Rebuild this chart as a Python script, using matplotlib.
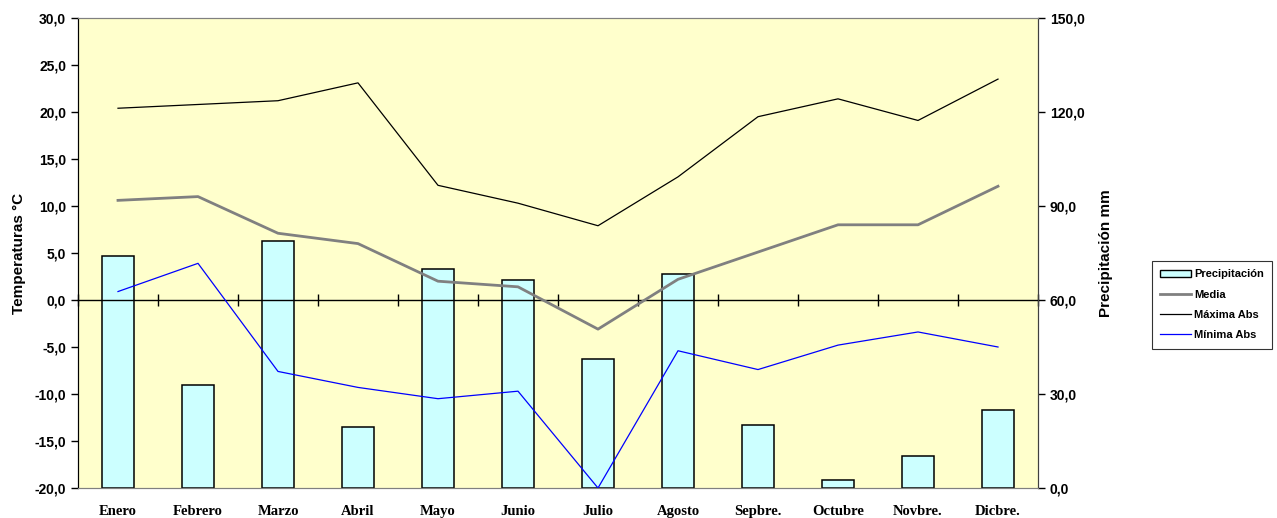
import numpy as np
import matplotlib
matplotlib.use("Agg")
import matplotlib.pyplot as plt
from matplotlib.patches import Patch
from matplotlib.lines import Line2D

plt.rcParams['font.family'] = ['Liberation Sans', 'DejaVu Sans']

meses = ["Enero", "Febrero", "Marzo", "Abril", "Mayo", "Junio", "Julio",
         "Agosto", "Sepbre.", "Octubre", "Novbre.", "Dicbre."]
precipitacion = [73.9, 32.9, 78.8, 19.4, 70.0, 66.5, 41.1, 68.3, 20.1, 2.5, 10.1, 24.8]
media = [10.6, 11.0, 7.1, 6.0, 2.0, 1.4, -3.1, 2.2, 5.1, 8.0, 8.0, 12.1]
maxima = [20.4, 20.8, 21.2, 23.1, 12.2, 10.3, 7.9, 13.1, 19.5, 21.4, 19.1, 23.5]
minima = [0.9, 3.9, -7.6, -9.3, -10.5, -9.7, -20.0, -5.4, -7.4, -4.8, -3.4, -5.0]

x = np.arange(len(meses))

fig = plt.figure(figsize=(12.77, 5.18), dpi=100)
ax = fig.add_axes([78 / 1277, 30 / 518, 960 / 1277, 470 / 518])
ax2 = ax.twinx()

# bars on the right axis, behind the temperature lines
ax2.patch.set_visible(True)
ax2.set_facecolor("#FFFFCC")
ax2.bar(x, precipitacion, width=0.4, color="#CCFFFF", edgecolor="black", linewidth=1.1)
ax2.set_ylim(0, 150)
ax2.set_yticks(np.arange(0, 151, 30))
ax2.set_yticklabels([f"{v:.1f}".replace(".", ",") for v in np.arange(0, 151, 30)])

ax.set_zorder(ax2.get_zorder() + 1)
ax.patch.set_visible(False)

ax.plot(x, media, color="#808080", lw=2.0)
ax.plot(x, maxima, color="black", lw=0.9)
ax.plot(x, minima, color="#0000FF", lw=0.9)

ax.set_xlim(-0.5, 11.5)
ax.set_ylim(-20, 30)
yt = np.arange(-20, 31, 5)
ax.set_yticks(yt)
ax.set_yticklabels([f"{v:.1f}".replace(".", ",") for v in yt])
ax.set_xticks(x)
ax.set_xticklabels(meses, family="Liberation Serif", fontweight="bold", fontsize=10.5)
ax.tick_params(axis="x", length=0, pad=12)
ax.tick_params(axis="y", length=5, width=1, labelsize=10)
ax2.tick_params(axis="y", length=5, width=1, labelsize=10)
for lab in ax.get_yticklabels() + ax2.get_yticklabels():
    lab.set_fontweight("bold")

# category axis crossing at 0 degrees
sec = ax.secondary_xaxis(0.4)
sec.set_xticks(np.arange(-0.5, 12, 1))
sec.set_xticklabels([])
sec.tick_params(direction="inout", length=8, width=1, color="black")
sec.spines["bottom"].set_color("black")
sec.spines["bottom"].set_linewidth(1)

for a in (ax, ax2):
    a.spines["top"].set_color("#808080")
    a.spines["bottom"].set_color("#808080")
    a.spines["left"].set_color("black")
    a.spines["right"].set_color("#404040")

ax.set_ylabel("Temperaturas °C", fontsize=11, fontweight="bold", labelpad=6)
ax2.set_ylabel("Precipitación mm", fontsize=11, fontweight="bold", labelpad=10)

handles = [Patch(facecolor="#CCFFFF", edgecolor="black"),
           Line2D([], [], color="#808080", lw=2.0),
           Line2D([], [], color="black", lw=0.9),
           Line2D([], [], color="#0000FF", lw=0.9)]
labels = ["Precipitación", "Media", "Máxima Abs", "Mínima Abs"]
leg = fig.legend(handles, labels, loc="upper left",
                 bbox_to_anchor=(1152 / 1277, 1 - 261 / 518),
                 prop={"size": 8, "weight": "bold"},
                 frameon=True, fancybox=False,
                 edgecolor="black", borderpad=0.75, handlelength=2.8,
                 handletextpad=0.25, labelspacing=0.93, borderaxespad=0)
leg.get_frame().set_linewidth(0.8)

fig.savefig("out.png", dpi=100)
